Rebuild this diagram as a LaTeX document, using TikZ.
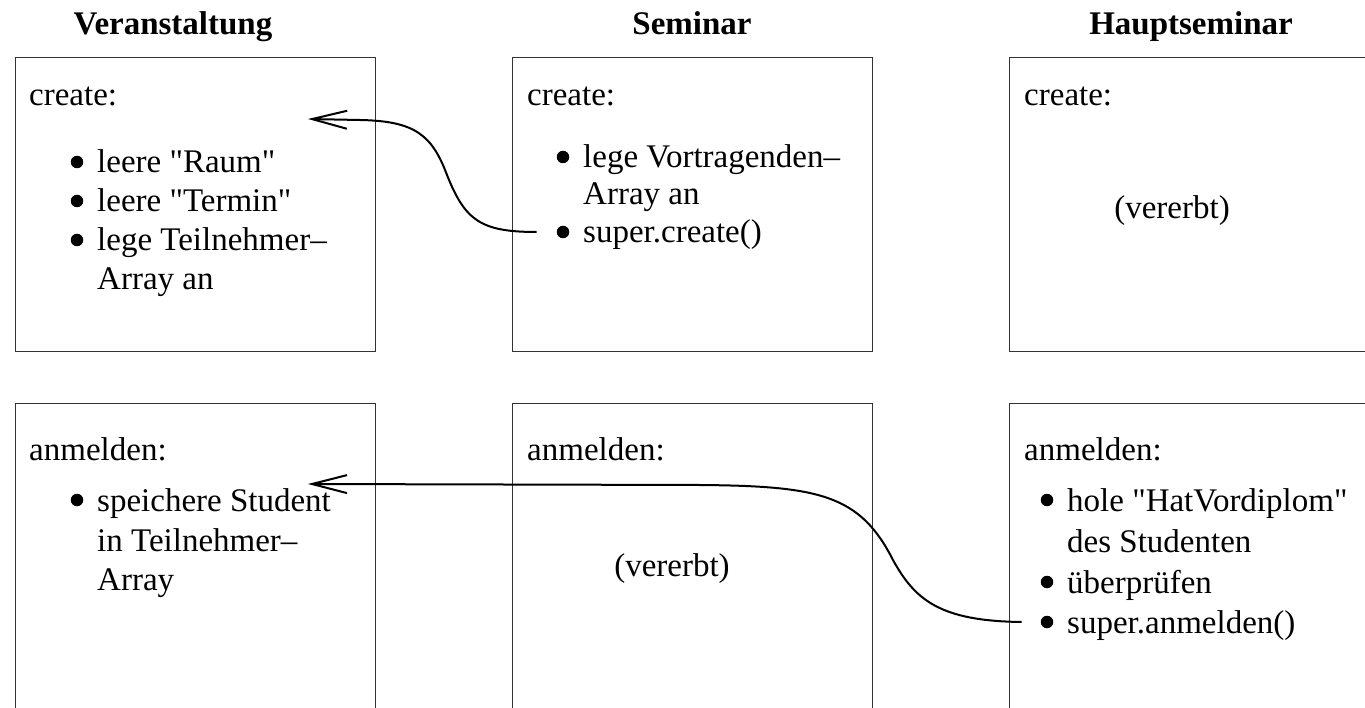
\documentclass[tikz,border=0pt]{standalone}
\usepackage{fontspec}
\setmainfont{Liberation Serif}
\usetikzlibrary{arrows.meta}
\newcommand{\qq}{\textquotedbl}

\begin{document}
\begin{tikzpicture}[
  x=1pt, y=-1pt,
  method/.style={draw=black!80, line width=1pt, minimum width=360pt,
                 minimum height=294pt, anchor=north west, inner sep=0pt},
  lowmethod/.style={method, minimum height=330pt},
  classname/.style={font=\bfseries\fontsize{33}{40}\selectfont, anchor=base, inner sep=0pt},
  txt/.style={font=\fontsize{33}{40}\selectfont, anchor=base west, inner sep=0pt},
  plain/.style={font=\fontsize{33}{40}\selectfont, anchor=base, inner sep=0pt},
  dot/.style={circle, fill, inner sep=0pt, minimum size=12.5pt},
  call/.style={draw, line width=2pt, -{Straight Barb[length=35pt,width=18pt]}},
]
  \useasboundingbox (0,0) rectangle (1365,708);

  % Classes
  \node[classname] (veranst) at (173,35) {Veranstaltung};
  \node[classname] (seminar) at (692,35) {Seminar};
  \node[classname] (hauptsem) at (1191,35) {Hauptseminar};

  % Method boxes
  \node[method] (boxVc) at (15,57) {};
  \node[method] (boxSc) at (512,57) {};
  \node[method, minimum width=380pt] (boxHc) at (1009,57) {};
  \node[lowmethod] (boxVa) at (15,403) {};
  \node[lowmethod] (boxSa) at (512,403) {};
  \node[lowmethod, minimum width=380pt] (boxHa) at (1009,403) {};

  % Bullets
  \foreach \bn/\bx/\by in {vcRaum/77/162, vcTermin/77/201, vcTeiln/77/240,
                           scVortr/563/157, scSuper/563/232, vaSpeich/77/500,
                           haHole/1047/500, haPruef/1047/582, haSuper/1047/622}
    \node[dot] (dot\bn) at (\bx,\by) {};

  % create: Veranstaltung
  \node[txt] (vcHead) at (29,106) {create:};
  \node[txt] (vcRaum) at (97,173) {leere \qq Raum\qq};
  \node[txt] (vcTermin) at (97,212) {leere \qq Termin\qq};
  \node[txt] (vcTeiln) at (97,251) {lege Teilnehmer–};
  \node[txt] (vcArray) at (97,290) {Array an};

  % create: Seminar
  \node[txt] (scHead) at (527,106) {create:};
  \node[txt] (scVortr) at (583,168) {lege Vortragenden–};
  \node[txt] (scArray) at (583,205) {Array an};
  \node[txt] (scSuper) at (583,243) {super.create()};

  % create: Hauptseminar
  \node[txt] (hcHead) at (1024,106) {create:};
  \node[plain] (hcErbt) at (1172,219) {(vererbt)};

  % anmelden: Veranstaltung
  \node[txt] (vaHead) at (29,460) {anmelden:};
  \node[txt] (vaSpeich) at (97,511) {speichere Student};
  \node[txt] (vaTeiln) at (97,551) {in Teilnehmer–};
  \node[txt] (vaArray) at (97,590) {Array};

  % anmelden: Seminar
  \node[txt] (saHead) at (527,460) {anmelden:};
  \node[plain] (saErbt) at (672,576) {(vererbt)};

  % anmelden: Hauptseminar
  \node[txt] (haHead) at (1024,460) {anmelden:};
  \node[txt] (haHole) at (1067,511) {hole \qq HatVordiplom\qq};
  \node[txt] (haStud) at (1067,552) {des Studenten};
  \node[txt] (haPruef) at (1067,593) {überprüfen};
  \node[txt] (haSuper) at (1067,633) {super.anmelden()};

  % super calls
  \coordinate (tipCreate) at (308,119);
  \coordinate (tipAnm) at (308,484);
  \draw[call] ([xshift=-20pt]dotscSuper.west) .. controls (480,232) and (465,220) .. (447,175)
    .. controls (432,135) and (415,121) .. (360,120) -- (tipCreate);
  \draw[call] ([xshift=-19pt]dothaSuper.west) .. controls (940,621) and (915,600) .. (893,560)
    .. controls (860,495) and (820,486) .. (700,485) -- (tipAnm);
\end{tikzpicture}
\end{document}
